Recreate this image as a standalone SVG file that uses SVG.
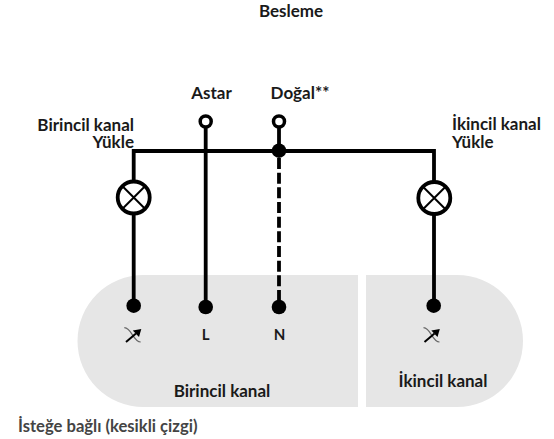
<svg xmlns="http://www.w3.org/2000/svg" width="554" height="439" viewBox="0 0 554 439">
<style>
text{font-family:Lato,"Liberation Sans",sans-serif;font-weight:700;font-size:17px;fill:#1a1a1a}
.w{fill:none;stroke:#000;stroke-width:3.800}
.dot{fill:#000}
.term{fill:#fff;stroke:#000;stroke-width:3.500}
.lamp{fill:#fff;stroke:#000;stroke-width:3.800}
.x{fill:none;stroke:#000;stroke-width:2}
.curve{fill:none;stroke:#666;stroke-width:1.200}
.arr{fill:none;stroke:#000;stroke-width:2}
.head{fill:#000}
.panel{fill:#e6e6e6}
.sm{font-size:15px}
</style>
<g id="panel-primary"><path class="panel" d="M358 275V407H143.500A66 66 0 0 1 143.500 275Z"/><text x="222" y="396.500" text-anchor="middle">Birincil kanal</text></g>
<g id="panel-secondary"><path class="panel" d="M366 275H457A66 66 0 0 1 457 407H366Z"/><text x="443" y="386.500" text-anchor="middle">İkincil kanal</text></g>
<g id="connectors">
<path class="w" d="M133.700 302V151H434V302"/>
<path class="w" d="M205.700 128V307"/>
<path class="w" d="M279 128V151"/>
<path class="w" d="M279 158V307" stroke-dasharray="11 3.670"/>
</g>
<g id="title"><text x="291" y="17" text-anchor="middle">Besleme</text></g>
<g id="live"><circle class="term" cx="205.700" cy="121.500" r="5.500"/><text x="211.500" y="98.500" text-anchor="middle">Astar</text></g>
<g id="neutral"><circle class="term" cx="279" cy="121.500" r="5.500"/><circle class="dot" cx="279" cy="150.700" r="7.200"/><text x="300" y="98.500" text-anchor="middle">Doğal**</text></g>
<g id="load-primary"><text text-anchor="end"><tspan x="134" y="130.500">Birincil kanal</tspan><tspan x="134" y="147.500">Yükle</tspan></text>
<circle class="lamp" cx="133.700" cy="197.500" r="16"/><path class="x" d="M122.500 186.300L145 208.800M145 186.300L122.500 208.800"/></g>
<g id="load-secondary"><text><tspan x="452" y="130">İkincil kanal</tspan><tspan x="452" y="147.500">Yükle</tspan></text>
<circle class="lamp" cx="434.300" cy="198" r="16"/><path class="x" d="M423 186.800L445.500 209.300M445.500 186.800L423 209.300"/></g>
<g id="term-out1"><circle class="dot" cx="133.700" cy="305.700" r="7.300"/>
<path class="curve" d="M124.300 327.700C132 328 133 342 140.700 342"/><path class="arr" d="M126 342L136 333.500"/><path class="head" d="M141.300 329L139 337L132.800 330.500Z"/></g>
<g id="term-l"><circle class="dot" cx="205.700" cy="307" r="7.300"/><text class="sm" x="205.700" y="339.500" text-anchor="middle">L</text></g>
<g id="term-n"><circle class="dot" cx="279" cy="307" r="7.300"/><text class="sm" x="279.500" y="339.500" text-anchor="middle">N</text></g>
<g id="term-out2"><circle class="dot" cx="433.700" cy="305.700" r="7.300"/>
<path class="curve" d="M423.500 327.700C431 328 432 342 439.500 342"/><path class="arr" d="M424.500 342L434.500 333.500"/><path class="head" d="M439.800 329L437.500 337L431.300 330.500Z"/></g>
<g id="note"><text x="18" y="431.500" style="fill:#444;font-size:16.600px">İsteğe bağlı (kesikli çizgi)</text></g>
</svg>
